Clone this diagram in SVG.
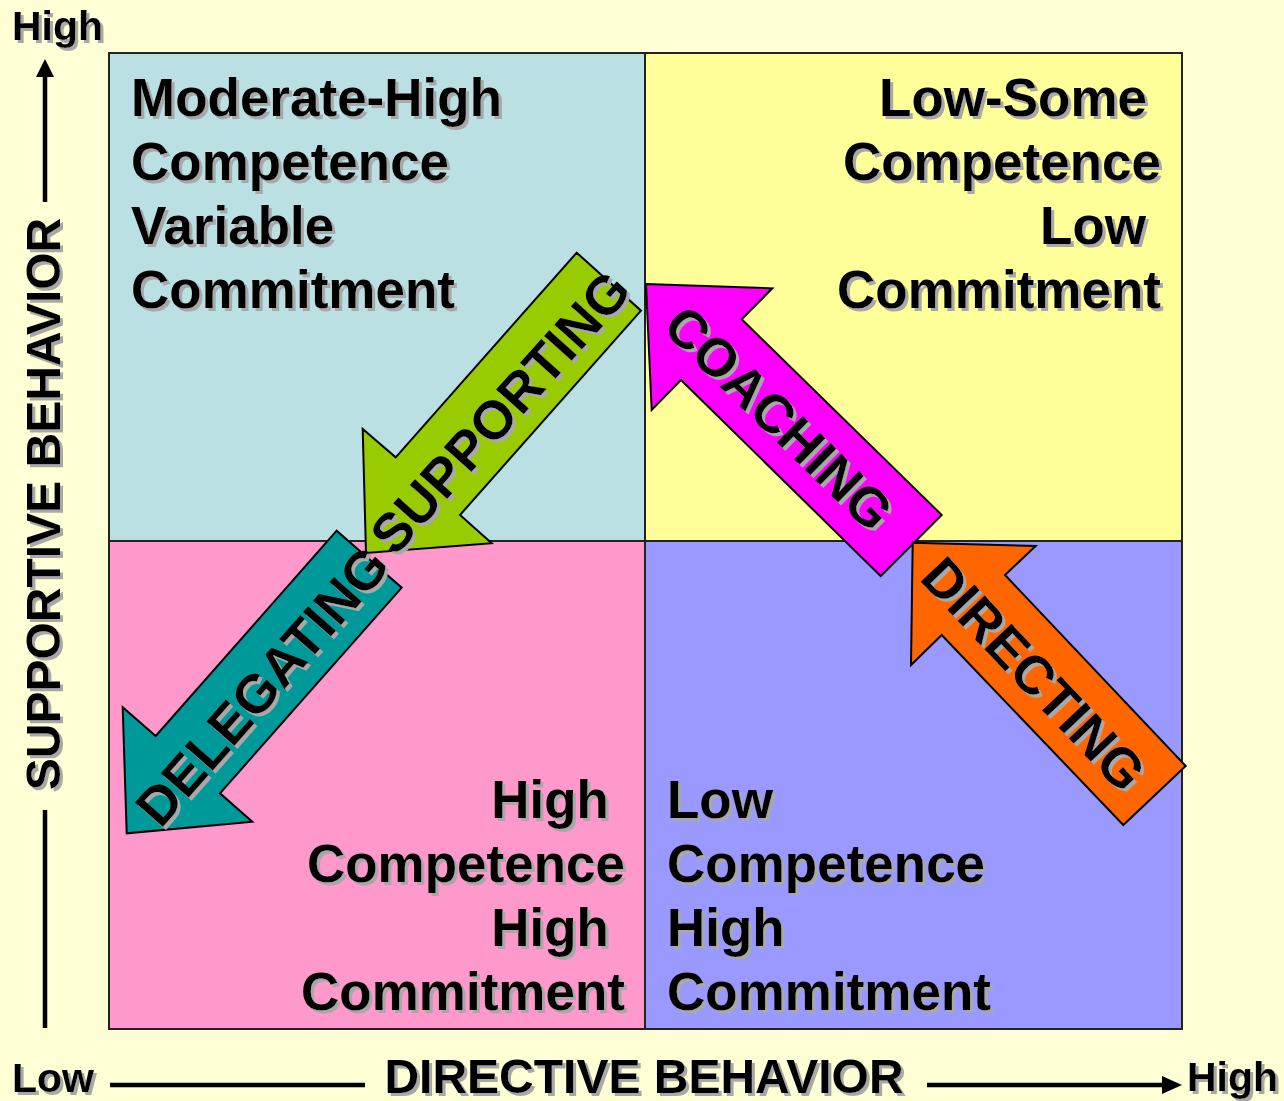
<svg xmlns="http://www.w3.org/2000/svg" width="1284" height="1101" viewBox="0 0 1284 1101">
<defs>
<style>
.q{font-family:"Liberation Sans",Arial,sans-serif;font-weight:bold;font-size:53px;fill:#000}
.ax{font-family:"Liberation Sans",Arial,sans-serif;font-weight:bold;fill:#000}
.at{font-family:"Liberation Sans",Arial,sans-serif;font-weight:bold;font-size:54px;fill:#000;text-anchor:middle}
.quad{stroke:#222;stroke-width:2}
.arr{stroke:#000;stroke-width:2;stroke-linejoin:miter}
.axl{stroke:#000;stroke-width:4.5;fill:none}
</style>
<filter id="sh" x="-10%" y="-10%" width="130%" height="130%">
<feFlood flood-color="#a8a8a8" result="c"/>
<feComposite in="c" in2="SourceAlpha" operator="in" result="s"/>
<feOffset in="s" dx="2.5" dy="2.5" result="o"/>
<feMerge><feMergeNode in="o"/><feMergeNode in="SourceGraphic"/></feMerge>
</filter>
</defs>
<rect x="0" y="0" width="1284" height="1101" fill="#FFFFD6"/>

<g id="quadrants">
<rect id="q-tl" class="quad" x="109" y="53" width="536" height="488" fill="#BAE0E3"/>
<rect id="q-tr" class="quad" x="645" y="53" width="537" height="488" fill="#FFFF99"/>
<rect id="q-bl" class="quad" x="109" y="541" width="536" height="488" fill="#FF99CC"/>
<rect id="q-br" class="quad" x="645" y="541" width="537" height="488" fill="#9999FF"/>
</g>

<g id="connectors">
<g id="axis-y">
<line class="axl" x1="45" y1="1028" x2="45" y2="810"/>
<line class="axl" x1="45" y1="202" x2="45" y2="74"/>
<polygon points="45,59 36,77 54,77" fill="#000"/>
</g>
<g id="axis-x">
<line class="axl" x1="110" y1="1085" x2="365" y2="1085"/>
<line class="axl" x1="927" y1="1085" x2="1164" y2="1085"/>
<polygon points="1182,1085 1162,1076 1162,1094" fill="#000"/>
</g>
</g>

<g id="arrow-supporting">
<polygon class="arr" fill="#99CC00" points="576.7,252.7 641,310.7 460,515 491.7,543.3 366,553 362.7,429 395.7,457.3"/>
<g filter="url(#sh)"><text class="at" transform="translate(500,412) rotate(-48)" dy="19">SUPPORTING</text></g>
</g>
<g id="arrow-delegating">
<polygon class="arr" fill="#009999" points="336.7,530.7 401.7,587.7 220,793.3 252.3,821.7 126.7,833.3 122.7,707.3 155.7,736"/>
<g filter="url(#sh)"><text class="at" transform="translate(262,686) rotate(-48.6)" dy="19">DELEGATING</text></g>
</g>
<g id="arrow-coaching">
<polygon class="arr" fill="#FF00FF" points="646,284 772.3,288.3 741.7,319.3 941.7,515 880.7,576 681,380 651.7,410"/>
<g filter="url(#sh)"><text class="at" transform="translate(779,418) rotate(44.4)" dy="19">COACHING</text></g>
</g>
<g id="arrow-directing">
<polygon class="arr" fill="#FF6600" points="912.7,542.7 1035.7,546 1005,575 1185.7,766 1123.3,825 941.7,635 911,665"/>
<g filter="url(#sh)"><text class="at" transform="translate(1034,674) rotate(46.6)" dy="19">DIRECTING</text></g>
</g>

<g id="labels" filter="url(#sh)">
<g id="text-tl">
<text class="q" x="131" y="116">Moderate-High</text>
<text class="q" x="131" y="180">Competence</text>
<text class="q" x="131" y="244">Variable</text>
<text class="q" x="131" y="308">Commitment</text>
</g>
<g id="text-tr" style="text-anchor:end">
<text class="q" x="1147" y="116">Low-Some</text>
<text class="q" x="1161" y="180">Competence</text>
<text class="q" x="1146" y="244">Low</text>
<text class="q" x="1161" y="308">Commitment</text>
</g>
<g id="text-bl" style="text-anchor:end">
<text class="q" x="609" y="818">High</text>
<text class="q" x="625" y="882">Competence</text>
<text class="q" x="609" y="946">High</text>
<text class="q" x="625" y="1010">Commitment</text>
</g>
<g id="text-br">
<text class="q" x="667" y="818">Low</text>
<text class="q" x="667" y="882">Competence</text>
<text class="q" x="667" y="946">High</text>
<text class="q" x="667" y="1010">Commitment</text>
</g>
<text class="ax" x="12" y="40" font-size="41">High</text>
<text class="ax" x="12" y="1092" font-size="41">Low</text>
<text class="ax" x="1187" y="1091" font-size="41">High</text>
<text class="ax" x="644" y="1093" font-size="48" text-anchor="middle">DIRECTIVE BEHAVIOR</text>
<text class="ax" font-size="48" text-anchor="middle" transform="translate(60,504) rotate(-90)">SUPPORTIVE BEHAVIOR</text>
</g>
</svg>
